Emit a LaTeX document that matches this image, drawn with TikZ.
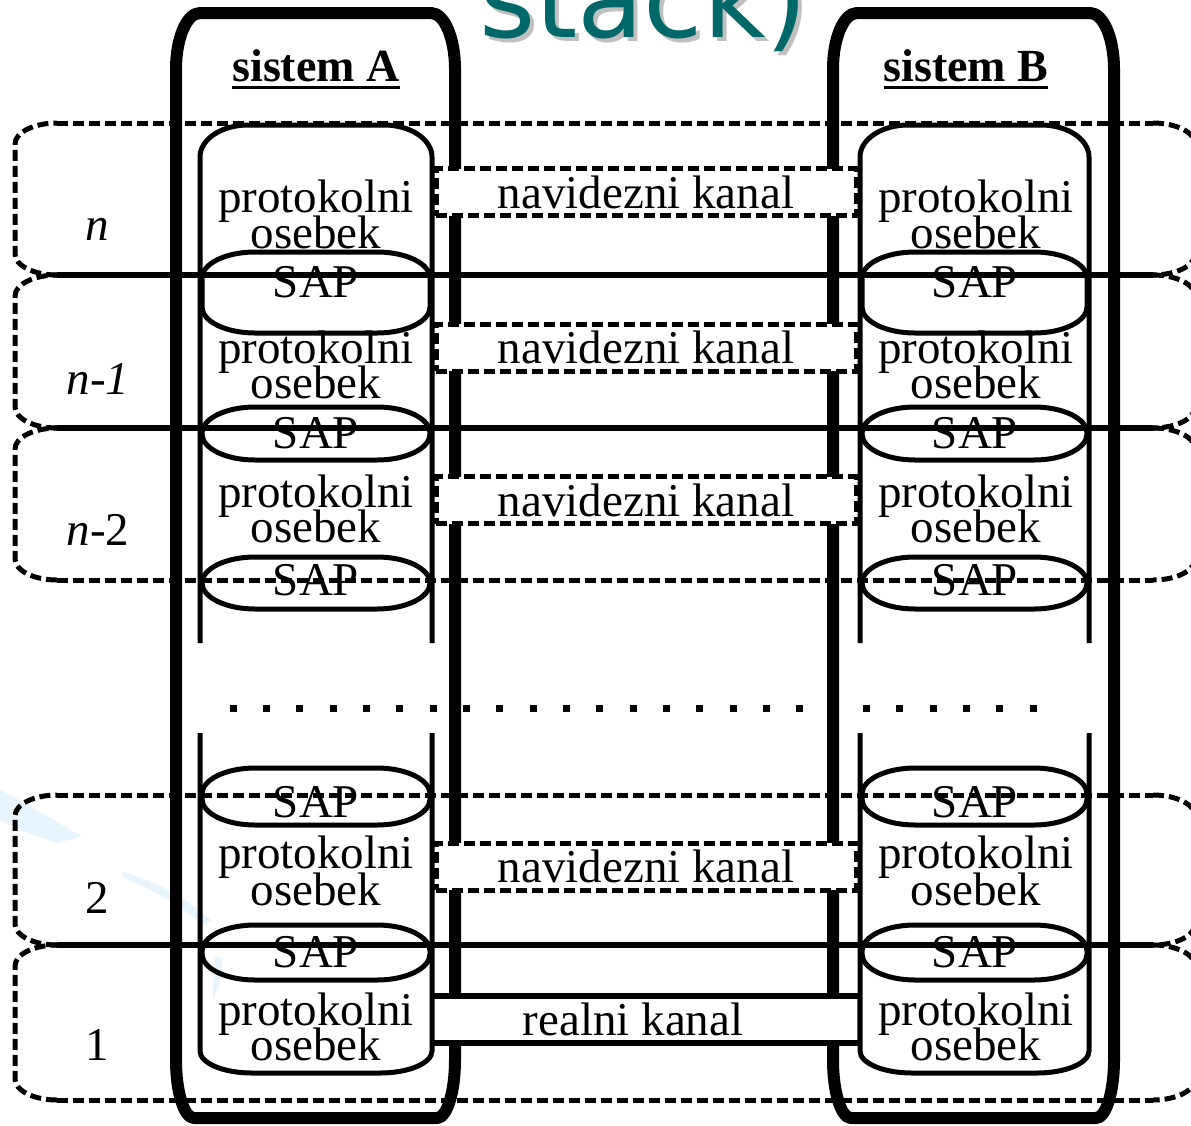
\documentclass[tikz,border=0pt]{standalone}
\usepackage{fontspec}
\setmainfont{Liberation Serif}
\newfontfamily\titlefont{DejaVu Sans}
\usetikzlibrary{calc}

\definecolor{titleteal}{RGB}{0,104,104}
\definecolor{titleshadow}{RGB}{192,192,192}
\definecolor{swoosh}{RGB}{232,245,253}

\newcommand{\diagfont}{\fontsize{47}{36}\selectfont}
\newcommand{\headfont}{\fontsize{46}{46}\selectfont\bfseries}

% rectangle with elliptical corners: x1, top, x2, bottom (pixels from top), rx, ry, style
\newcommand{\ellcornerbox}[7]{%
  \draw[#7] (#1+#5,-#2) -- (#3-#5,-#2)
    arc[start angle=90,end angle=0,x radius=#5pt,y radius=#6pt] -- (#3,-#4+#6)
    arc[start angle=0,end angle=-90,x radius=#5pt,y radius=#6pt] -- (#1+#5,-#4)
    arc[start angle=270,end angle=180,x radius=#5pt,y radius=#6pt] -- (#1,-#2-#6)
    arc[start angle=180,end angle=90,x radius=#5pt,y radius=#6pt] -- cycle;}

% outer frame of a system: left x, right x
\newcommand{\systemframe}[2]{%
  \draw[sysline] (#1+24,-13) -- (#2-24,-13)
    arc[start angle=90,end angle=0,x radius=24pt,y radius=56pt] -- (#2,-1060)
    arc[start angle=0,end angle=-90,x radius=18pt,y radius=58pt] -- (#1+18,-1118)
    arc[start angle=270,end angle=180,x radius=18pt,y radius=58pt] -- (#1,-69)
    arc[start angle=180,end angle=90,x radius=24pt,y radius=56pt] -- cycle;}

% protocol stack column, open between the upper and lower part
\newcommand{\stackcolumn}[2]{%
  \draw[colline] (#1,-643) -- (#1,-157)
    arc[start angle=180,end angle=90,x radius=48pt,y radius=32pt] -- (#2-48,-125)
    arc[start angle=90,end angle=0,x radius=48pt,y radius=32pt] -- (#2,-643);
  \draw[colline] (#1,-733) -- (#1,-1051)
    arc[start angle=180,end angle=270,x radius=52pt,y radius=22pt] -- (#2-52,-1073)
    arc[start angle=270,end angle=360,x radius=52pt,y radius=22pt] -- (#2,-733);}

% dashed rounded ends of a layer band: top y, bottom y
\newcommand{\layerends}[2]{%
  \draw[layerdash] (57,-#2) arc[start angle=270,end angle=180,x radius=42pt,y radius=21pt]
    -- (15,-#1-21) arc[start angle=180,end angle=90,x radius=42pt,y radius=21pt];
  \draw[layerdash] (1153,-#1) arc[start angle=90,end angle=0,x radius=42pt,y radius=21pt]
    -- (1195,-#2+21) arc[start angle=0,end angle=-90,x radius=42pt,y radius=21pt];}

\tikzset{
  sysline/.style={line width=12pt, line join=round},
  colline/.style={line width=5pt},
  sapline/.style={line width=5pt},
  layersolid/.style={line width=5.5pt},
  layerdash/.style={line width=5pt, dash pattern=on 11pt off 5pt},
  txt/.style={inner sep=0pt, outer sep=0pt, anchor=base, font=\diagfont},
  headtxt/.style={inner sep=0pt, outer sep=0pt, anchor=base, font=\headfont},
  vchan/.style={draw, line width=5pt, dash pattern=on 11pt off 5pt, fill=white,
    minimum width=420pt, minimum height=47pt, inner sep=0pt, outer sep=0pt, font=\diagfont},
  rchan/.style={draw=black!45, line width=1.2pt, fill=white,
    minimum width=426pt, minimum height=47pt, inner sep=0pt, outer sep=0pt},
  rchanline/.style={line width=6pt},
  dotmark/.style={fill=black},
  titletxt/.style={inner sep=0pt, outer sep=0pt, anchor=base west,
    font={\titlefont\fontsize{108}{108}\selectfont}}
}

\begin{document}
\begin{tikzpicture}[x=1pt,y=1pt]
\useasboundingbox (0,0) rectangle (1191,-1125);
\clip (0,0) rectangle (1191,-1125);
\fill[white] (0,0) rectangle (1191,-1125);

% faint background swoosh
\fill[swoosh] (0,-790) .. controls (30,-805) and (60,-825) .. (82,-836)
  -- (57,-843) .. controls (35,-836) and (15,-828) .. (0,-820) -- cycle;
\fill[swoosh] (122,-872) .. controls (150,-879) and (185,-896) .. (212,-921)
  -- (203,-925) .. controls (180,-905) and (150,-888) .. (122,-877) -- cycle;
\fill[swoosh] (215,-956) -- (222,-958) .. controls (222,-975) and (218,-990) .. (213,-1000)
  .. controls (213,-985) and (214,-970) .. (215,-956) -- cycle;

% title fragment
\node[titletxt, text=titleshadow] (stackshadow) at (483,-41) {stack)};
\node[titletxt, text=titleteal] (stacktitle) at (479,-37) {stack)};

% systems
\systemframe{176}{455}
\systemframe{833}{1114}
\node[headtxt] (titleA) at (316,-81) {sistem A};
\node[headtxt] (titleB) at (966,-81) {sistem B};
\draw[line width=3pt] ($(titleA.base west)+(0,-6)$) -- ($(titleA.base east)+(0,-6)$);
\draw[line width=3pt] ($(titleB.base west)+(0,-6)$) -- ($(titleB.base east)+(0,-6)$);

% channels between the peer entities
\node[vchan] (chn)  at (646,-192)   {navidezni kanal};
\node[vchan] (chn1) at (646,-347.5) {navidezni kanal};
\node[vchan] (chn2) at (646,-500)   {navidezni kanal};
\node[vchan] (ch2)  at (646,-866.5) {navidezni kanal};
\node[rchan] (chr) at (645,-1019.5) {};
\draw[rchanline] (chr.north west) -- (chr.north east);
\draw[rchanline] (chr.south west) -- (chr.south east);
\node[txt] (chrl) at (633,-1035) {realni kanal};

% layer bands
\layerends{123}{275}
\layerends{275}{428}
\layerends{428}{580}
\layerends{795}{945}
\layerends{945}{1100}
\foreach \yy in {123,580,795,1100} \draw[layerdash] (57,-\yy) -- (1153,-\yy);
\foreach \yy in {275,428,945} \draw[layersolid] (57,-\yy) -- (1153,-\yy);

% protocol stacks
\stackcolumn{200}{432}
\stackcolumn{860}{1089}
\foreach \ta/\tb in {252/333, 407/460, 557/609, 768/825, 925/980} {
  \ellcornerbox{202}{\ta}{430}{\tb}{53}{26}{sapline}
  \ellcornerbox{862}{\ta}{1087}{\tb}{53}{26}{sapline}
}

% omitted layers
\foreach \i in {0,...,24} \fill[dotmark] (229.5+33.333*\i,-704.5) rectangle ++(7,-7);

% entity and SAP labels
\foreach \k/\yp/\yo in {1/212/248, 2/363/398, 3/507/542, 4/868/905, 5/1025/1060} {
  \node[txt] (pA\k) at (316,-\yp) {protokolni};
  \node[txt] (oA\k) at (316,-\yo) {osebek};
  \node[txt] (pB\k) at (976,-\yp) {protokolni};
  \node[txt] (oB\k) at (976,-\yo) {osebek};
}
\foreach \k/\ys in {1/297, 2/448, 3/595, 4/817, 5/967} {
  \node[txt] (sA\k) at (316,-\ys) {SAP};
  \node[txt] (sB\k) at (975,-\ys) {SAP};
}

% layer numbers
\node[txt] (ln)  at (97,-240)  {\textit{n}};
\node[txt] (ln1) at (98,-394)  {\textit{n-1}};
\node[txt] (ln2) at (98,-545)  {\textit{n}-2};
\node[txt] (l2)  at (97,-913)  {2};
\node[txt] (l1)  at (97,-1060) {1};
\end{tikzpicture}
\end{document}
